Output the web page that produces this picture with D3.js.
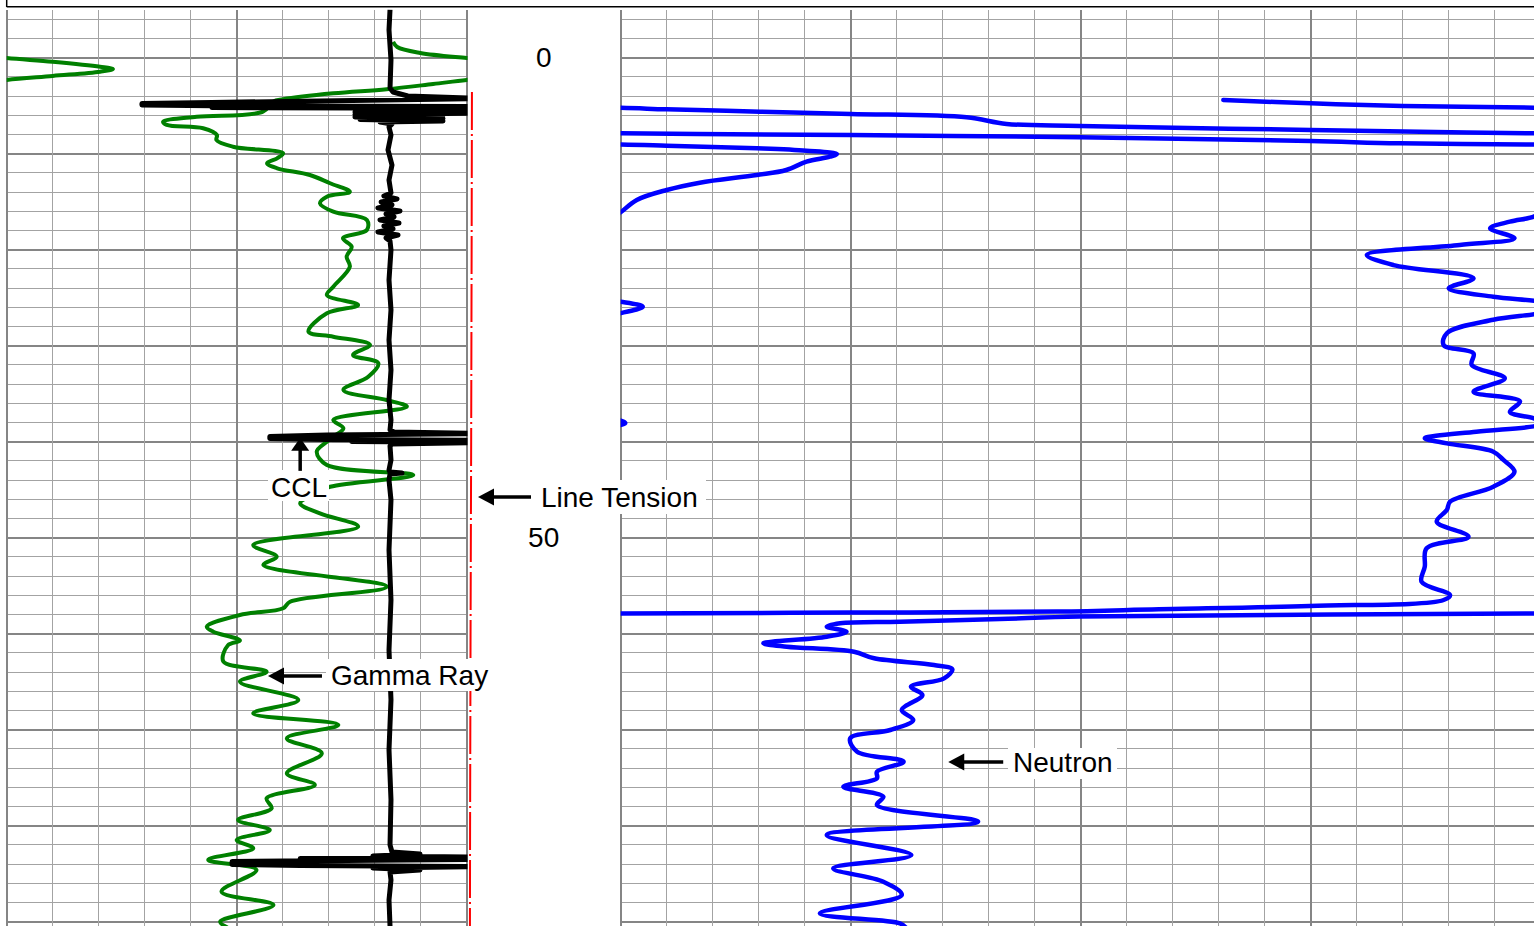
<!DOCTYPE html>
<html><head><meta charset="utf-8">
<script src="https://cdn.jsdelivr.net/npm/d3@7"></script>
<style>html,body{margin:0;padding:0;background:#fff;overflow:hidden}</style>
</head><body>
<svg id="chart" width="1534" height="926"></svg>
<script>
// ---------------- DATA ----------------
// depth labels shown in the depth track
const depthLabels = [0, 50];
// Gamma Ray: [depth, value] (track 0..100, values >100 wrap to backup)
const gammaRay = [[-1.64,84.0],[-1.11,84.9],[-0.49,89.9],[0.03,100],[0.42,110],[0.94,120.3],[1.18,123.1],[1.46,120.3],[1.90,110],[2.32,100],[2.74,92.7],[3.29,82.6],[3.71,71.0],[4.33,60.1],[4.58,57.9],[5.62,55.7],[6.15,41.3],[6.67,34.0],[7.0,34.8],[7.35,42.7],[8.05,45.7],[8.57,45.6],[9.27,49.2],[9.96,60.1],[10.48,58.8],[11.0,56.6],[11.52,58.8],[12.22,65.9],[13.08,70.3],[13.96,74.6],[14.48,69.6],[15.17,68.1],[16.04,71.0],[16.9,78.3],[17.95,78.3],[18.81,73.1],[19.69,75.0],[20.73,73.9],[21.77,74.6],[23.85,71.0],[24.72,69.6],[25.76,76.4],[26.63,69.6],[28.54,65.6],[29.06,71.0],[29.93,79.0],[30.97,75.3],[31.83,80.8],[33.23,78.6],[34.61,73.2],[35.66,82.6],[36.35,87.0],[37.74,71.0],[38.6,73.2],[39.48,71.0],[40.0,69.6],[41.04,67.4],[42.43,69.6],[43.47,88.4],[44.69,70.3],[45.6,66.0],[46.42,63.8],[47.46,68.1],[48.85,76.4],[50.76,53.6],[51.98,58.7],[52.84,55.8],[55.1,82.6],[56.67,61.6],[57.35,60.1],[58.05,50.7],[59.27,43.5],[59.79,44.9],[60.7,50.7],[61.2,48.1],[62.9,47.1],[63.96,56.5],[65.0,50.7],[66.9,63.4],[68.3,53.6],[69.5,72.1],[70.9,60.9],[72.46,68.5],[74.54,60.9],[75.76,67.0],[77.15,56.5],[78.19,57.6],[79.4,50.3],[80.45,57.2],[81.49,50.0],[82.35,53.6],[83.57,43.8],[84.61,54.3],[86.88,46.7],[88.26,58.0],[90.0,46.4],[90.6,48.0]];
// CCL: [depth, value] on the left track scale
const ccl = [[-5.02,83.33],[-2.89,83.11],[0.24,83.54],[3.16,83.33],[3.57,83.98],[3.99,87.2],[4.25,102.9],[4.67,44.6],[4.77,29.4],[4.93,29.4],[5.01,44.6],[5.08,102.9],[5.19,44.6],[5.27,102.9],[5.40,75.7],[5.5,102.9],[5.66,75.7],[5.76,102.9],[5.92,75.7],[6.02,94.85],[6.18,75.7],[6.33,94.85],[6.44,76.8],[6.59,94.85],[6.7,81.15],[6.91,83.76],[7.22,83.11],[8.05,83.54],[9.61,82.89],[11.18,83.76],[12.74,83.11],[14.09,83.54],[14.41,82.0],[14.72,84.85],[15.03,81.4],[15.34,83.76],[15.66,80.7],[15.97,85.5],[16.28,82.46],[16.59,84.2],[16.91,81.15],[17.22,85.28],[17.53,82.0],[17.84,83.98],[18.16,80.7],[18.47,85.07],[18.78,82.46],[19.09,83.33],[20.03,83.54],[23.16,83.11],[26.28,83.54],[29.41,83.11],[32.53,83.54],[35.66,83.11],[37.74,83.54],[38.78,83.33],[38.99,84.2],[39.15,102.9],[39.3,69.6],[39.46,57.2],[39.67,57.2],[39.77,69.6],[39.85,102.9],[39.97,75.0],[40.08,102.9],[40.24,83.76],[40.45,83.33],[41.91,83.54],[42.95,83.11],[43.16,83.33],[43.26,85.94],[43.36,83.33],[43.99,83.11],[46.07,83.54],[51.28,83.11],[56.49,83.54],[61.7,83.11],[66.9,83.54],[72.1,83.11],[77.3,83.54],[81.99,83.33],[82.74,83.76],[82.95,89.85],[83.16,79.6],[83.26,102.9],[83.42,63.8],[83.52,102.9],[83.73,49.0],[84.04,49.0],[84.15,63.8],[84.25,102.9],[84.41,79.6],[84.61,89.85],[84.82,83.33],[85.66,83.54],[87.74,83.11],[90.45,83.33]];
// Line tension: [depth, value]
const lineTension = [[3.57,34],[20,32],[40,29],[60,25],[80,22],[90.45,21]];
// Neutron: [depth, value] (track 0..200, wraps every 200)
const neutron = [[4.41,131],[4.75,150],[5.03,170],[5.22,200],[5.38,210],[5.62,230.3],[5.86,250],[6.21,275.2],[6.9,283.9],[7.11,299.8],[7.53,350],[7.88,400],[8.05,450],[8.29,499.8],[8.68,550],[8.92,569.2],[9.05,600],[9.17,610],[9.44,629.6],[9.69,640.4],[10.03,647],[10.31,645.5],[10.83,640.4],[11.7,636],[12.22,629.6],[13.02,617.2],[13.78,610],[14.82,603.5],[16.1,600],[16.56,598.5],[17.08,593.3],[17.77,589],[18.81,594.3],[19.5,582.4],[20.55,562.2],[21.6,568],[22.98,585.4],[24.02,580],[24.9,589.7],[25.42,600],[25.94,604.8],[26.6,600],[27.3,589.7],[28.7,579.6],[29.93,578.9],[30.8,585.4],[32.0,585],[33.4,592.2],[34.8,585.4],[35.8,595.5],[36.9,593.3],[37.56,598.5],[38.05,601],[38.4,598.5],[38.96,586],[39.65,574.8],[40.17,579.6],[41.04,589.7],[41.9,591.9],[43.13,594.3],[44.69,589.7],[46.25,580.3],[47.11,579.6],[48.33,577.4],[49.9,584.3],[51.1,575.2],[53.02,574.8],[54.58,574.1],[55.97,580.3],[56.49,578.9],[57.11,549.8],[57.46,517],[57.7,495],[57.8,450],[57.9,400],[58.2,299.8],[58.47,282.4],[58.75,260.7],[58.92,247.7],[59.27,244.8],[59.79,249.1],[60.31,244.8],[61.0,231],[61.35,236.1],[61.88,250.7],[62.56,255.1],[63.26,268.1],[63.71,272.1],[64.65,270.3],[65.52,263.1],[66.39,265.6],[67.95,261.1],[68.99,263.6],[70.03,258.6],[70.9,249.9],[72.29,251.4],[73.33,261.5],[74.38,255.7],[75.06,255.7],[75.94,248.4],[76.98,257.1],[77.84,255.7],[79.58,277.7],[80.97,244.8],[83.05,263.2],[84.44,246.2],[85.83,257.1],[87.22,261.1],[89.13,243.3],[90.17,260.7],[90.6,262]];
// annotation labels
const annotations = ["CCL", "Line Tension", "Gamma Ray", "Neutron"];

// ---------------- LAYOUT ----------------
const svg = d3.select("#chart");
const TOP = 9.5, BOT = 926;
const y = d3.scaleLinear().domain([0, 50]).range([57.7, 537.7]);
const grX = d3.scaleLinear().domain([0, 100]).range([6.7, 466.7]);
const nX = d3.scaleLinear().domain([0, 200]).range([620.7, 1540.7]);
const tX = d3.scaleLinear().domain([0, 1000]).range([466.7, 620.7]);
const dMin = y.invert(TOP), dMax = y.invert(BOT);

const defs = svg.append("defs");
defs.append("clipPath").attr("id", "clipL").append("rect")
  .attr("x", grX(0)).attr("y", TOP).attr("width", grX(100) - grX(0) + 0.8).attr("height", BOT - TOP);
defs.append("clipPath").attr("id", "clipR").append("rect")
  .attr("x", nX(0)).attr("y", TOP).attr("width", nX(200) - nX(0)).attr("height", BOT - TOP);

// grid
const grid = svg.append("g").attr("shape-rendering", "crispEdges");
const depthTicks = d3.range(-4, 92, 2).filter(d => d >= dMin && d <= dMax);
function hgrid(x0, x1) {
  grid.append("g").selectAll("line").data(depthTicks).join("line")
    .attr("x1", x0).attr("x2", x1).attr("y1", d => y(d)).attr("y2", d => y(d))
    .attr("stroke", d => d % 10 === 0 ? "#858585" : "#a3a3a3")
    .attr("stroke-width", d => d % 10 === 0 ? 2 : 1);
}
hgrid(grX(0), grX(100));
hgrid(nX(0), 1534);
grid.append("g").selectAll("line").data(d3.range(0, 101, 10)).join("line")
  .attr("x1", d => grX(d)).attr("x2", d => grX(d)).attr("y1", TOP).attr("y2", BOT)
  .attr("stroke", d => d % 50 === 0 ? "#858585" : "#a3a3a3")
  .attr("stroke-width", d => d % 50 === 0 ? 2 : 1);
grid.append("g").selectAll("line").data(d3.range(0, 201, 10)).join("line")
  .attr("x1", d => nX(d)).attr("x2", d => nX(d)).attr("y1", TOP).attr("y2", BOT)
  .attr("stroke", d => d % 50 === 0 ? "#858585" : "#a3a3a3")
  .attr("stroke-width", d => d % 50 === 0 ? 2 : 1);

// header border
svg.append("line").attr("x1", grX(0)).attr("x2", 1534).attr("y1", 6.7).attr("y2", 6.7)
  .attr("stroke", "#000").attr("stroke-width", 1.5);
svg.append("line").attr("x1", grX(0)).attr("x2", grX(0)).attr("y1", 0).attr("y2", 7)
  .attr("stroke", "#000").attr("stroke-width", 1.5);

// depth labels
svg.append("g").selectAll("text").data(depthLabels).join("text")
  .attr("x", (tX(0) + tX(1000)) / 2).attr("y", d => y(d) + 9.5)
  .attr("text-anchor", "middle")
  .attr("font-family", "'Liberation Sans', Arial, sans-serif").attr("font-size", 28)
  .attr("fill", "#000").text(d => d);

// line tension
svg.append("path").datum(lineTension)
  .attr("d", d3.line().x(p => tX(p[1])).y(p => y(p[0])))
  .attr("fill", "none").attr("stroke", "#ff0000").attr("stroke-width", 2)
  .attr("stroke-dasharray", "38,4,2,4");

// gamma ray (main + backup wrap)
const gL = svg.append("g").attr("clip-path", "url(#clipL)");
[0, 1].forEach(k => {
  gL.append("path").datum(gammaRay)
    .attr("d", d3.line().x(p => grX(p[1] - 100 * k)).y(p => y(p[0])).curve(d3.curveCatmullRom.alpha(0.5)))
    .attr("fill", "none").attr("stroke", "#008000").attr("stroke-width", 4)
    .attr("stroke-linejoin", "round");
});
// CCL
gL.append("path").datum(ccl)
  .attr("d", d3.line().x(p => grX(p[1])).y(p => y(p[0])))
  .attr("fill", "none").attr("stroke", "#000").attr("stroke-width", 5)
  .attr("stroke-linejoin", "round");

// neutron (multi-level wrap)
const gR = svg.append("g").attr("clip-path", "url(#clipR)");
[0, 1, 2, 3].forEach(k => {
  gR.append("path").datum(neutron)
    .attr("d", d3.line().x(p => nX(p[1] - 200 * k)).y(p => y(p[0])).curve(d3.curveCatmullRom.alpha(0.5)))
    .attr("fill", "none").attr("stroke", "#0000ff").attr("stroke-width", 4.5)
    .attr("stroke-linejoin", "round").attr("stroke-linecap", "round");
});

// annotations
const font = "'Liberation Sans', Arial, sans-serif";
const ann = svg.append("g");
function box(x0, y0, x1, y1) {
  ann.append("rect").attr("x", x0).attr("y", y0).attr("width", x1 - x0).attr("height", y1 - y0).attr("fill", "#fff");
}
function label(t, x, yb) {
  ann.append("text").attr("x", x).attr("y", yb).attr("font-family", font).attr("font-size", 28)
    .attr("fill", "#000").text(t);
}
function arrowLeft(tx, ty, len) {
  ann.append("line").attr("x1", tx + 12).attr("x2", tx + len).attr("y1", ty).attr("y2", ty)
    .attr("stroke", "#000").attr("stroke-width", 3.5);
  ann.append("polygon").attr("points", `${tx},${ty} ${tx + 16},${ty - 8.5} ${tx + 16},${ty + 8.5}`).attr("fill", "#000");
}
function arrowUp(tx, ty, len) {
  ann.append("line").attr("x1", tx).attr("x2", tx).attr("y1", ty + 10).attr("y2", ty + len)
    .attr("stroke", "#000").attr("stroke-width", 3.5);
  ann.append("polygon").attr("points", `${tx},${ty} ${tx - 9},${ty + 13} ${tx + 9},${ty + 13}`).attr("fill", "#000");
}
// CCL
box(268, 470, 329, 501);
arrowUp(grX(63.8), y(39.6), 33);
label(annotations[0], 271, y(45.78));
// Line Tension
box(536, 480, 706, 514);
arrowLeft(tX(73.4), y(45.76), 53);
label(annotations[1], 541, y(46.8));
// Gamma Ray
box(326, 659, 493, 691);
arrowLeft(grX(56.8), y(64.4), 54);
label(annotations[2], 331, y(65.3));
// Neutron
box(1008, 748, 1117, 779);
arrowLeft(nX(71.2), y(73.36), 55);
label(annotations[3], 1013, y(74.41));
</script>
</body></html>
